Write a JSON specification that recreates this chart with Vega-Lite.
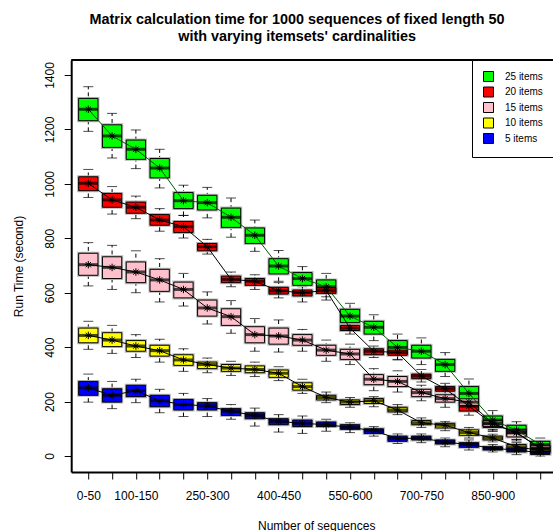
{
"$schema":"https://vega.github.io/schema/vega-lite/v6.json",
"width":481.8,"height":412,
"autosize":{"type":"none"},
"padding":{"left":71.2,"top":60,"right":0,"bottom":59},
"background":"white",
"title":{"text":["Matrix calculation time for 1000 sequences of fixed length 50","with varying itemsets' cardinalities"],"font":"Liberation Sans","fontSize":14.4,"fontWeight":"bold","color":"black","anchor":"middle","frame":"group","offset":14.5,"lineHeight":17,"dx":-15},
"config":{"view":{"stroke":null},"scale":{"continuousPadding":0},"axis":{"grid":false,"domainColor":"black","domainWidth":2,"tickColor":"black","tickWidth":1,"tickSize":7,"labelFont":"Liberation Sans","labelFontSize":12,"labelColor":"black","titleFont":"Liberation Sans","titleFontSize":12,"titleFontWeight":"normal","titleColor":"black","labelOverlap":false,"labelFlush":false}},
"data":{"values":[
{"c":1,"s":"25 items","lo":1193,"q1":1232,"m":1274,"q3":1314,"hi":1357},
{"c":2,"s":"25 items","lo":1095,"q1":1134,"m":1176,"q3":1217,"hi":1259},
{"c":3,"s":"25 items","lo":1056,"q1":1090,"m":1127,"q3":1161,"hi":1198},
{"c":4,"s":"25 items","lo":985,"q1":1022,"m":1058,"q3":1093,"hi":1127},
{"c":5,"s":"25 items","lo":884,"q1":909,"m":938,"q3":968,"hi":995},
{"c":6,"s":"25 items","lo":875,"q1":904,"m":931,"q3":958,"hi":987},
{"c":7,"s":"25 items","lo":804,"q1":840,"m":877,"q3":911,"hi":948},
{"c":8,"s":"25 items","lo":752,"q1":781,"m":811,"q3":838,"hi":867},
{"c":9,"s":"25 items","lo":642,"q1":669,"m":698,"q3":725,"hi":755},
{"c":10,"s":"25 items","lo":605,"q1":627,"m":652,"q3":674,"hi":696},
{"c":11,"s":"25 items","lo":573,"q1":598,"m":622,"q3":647,"hi":671},
{"c":12,"s":"25 items","lo":465,"q1":490,"m":514,"q3":539,"hi":561},
{"c":13,"s":"25 items","lo":424,"q1":448,"m":473,"q3":495,"hi":519},
{"c":14,"s":"25 items","lo":353,"q1":375,"m":399,"q3":424,"hi":448},
{"c":15,"s":"25 items","lo":336,"q1":360,"m":385,"q3":407,"hi":434},
{"c":16,"s":"25 items","lo":292,"q1":311,"m":336,"q3":355,"hi":380},
{"c":17,"s":"25 items","lo":185,"q1":208,"m":230,"q3":255,"hi":283},
{"c":18,"s":"25 items","lo":98,"q1":110,"m":132,"q3":147,"hi":167},
{"c":19,"s":"25 items","lo":61,"q1":74,"m":95,"q3":113,"hi":126},
{"c":20,"s":"25 items","lo":17,"q1":29,"m":42,"q3":54,"hi":66},
{"c":1,"s":"20 items","lo":950,"q1":975,"m":1002,"q3":1026,"hi":1053},
{"c":2,"s":"20 items","lo":889,"q1":914,"m":941,"q3":965,"hi":990},
{"c":3,"s":"20 items","lo":872,"q1":892,"m":914,"q3":933,"hi":955},
{"c":4,"s":"20 items","lo":826,"q1":848,"m":867,"q3":887,"hi":909},
{"c":5,"s":"20 items","lo":801,"q1":821,"m":843,"q3":862,"hi":884},
{"c":6,"s":"20 items","lo":742,"q1":754,"m":769,"q3":781,"hi":796},
{"c":7,"s":"20 items","lo":622,"q1":637,"m":649,"q3":661,"hi":676},
{"c":8,"s":"20 items","lo":612,"q1":627,"m":642,"q3":652,"hi":666},
{"c":9,"s":"20 items","lo":581,"q1":595,"m":607,"q3":620,"hi":637},
{"c":10,"s":"20 items","lo":566,"q1":588,"m":600,"q3":610,"hi":622},
{"c":11,"s":"20 items","lo":585,"q1":598,"m":608,"q3":618,"hi":630},
{"c":12,"s":"20 items","lo":448,"q1":461,"m":470,"q3":480,"hi":490},
{"c":13,"s":"20 items","lo":362,"q1":372,"m":385,"q3":394,"hi":404},
{"c":14,"s":"20 items","lo":355,"q1":370,"m":380,"q3":389,"hi":404},
{"c":15,"s":"20 items","lo":272,"q1":284,"m":294,"q3":301,"hi":318},
{"c":16,"s":"20 items","lo":225,"q1":238,"m":247,"q3":255,"hi":267},
{"c":17,"s":"20 items","lo":150,"q1":165,"m":183,"q3":200,"hi":215},
{"c":18,"s":"20 items","lo":90,"q1":105,"m":118,"q3":128,"hi":140},
{"c":19,"s":"20 items","lo":60,"q1":74,"m":86,"q3":98,"hi":110},
{"c":20,"s":"20 items","lo":5,"q1":15,"m":27,"q3":37,"hi":48},
{"c":1,"s":"15 items","lo":625,"q1":664,"m":703,"q3":745,"hi":784},
{"c":2,"s":"15 items","lo":612,"q1":652,"m":693,"q3":732,"hi":774},
{"c":3,"s":"15 items","lo":600,"q1":637,"m":676,"q3":713,"hi":754},
{"c":4,"s":"15 items","lo":566,"q1":605,"m":647,"q3":686,"hi":725},
{"c":5,"s":"15 items","lo":551,"q1":581,"m":612,"q3":639,"hi":671},
{"c":6,"s":"15 items","lo":485,"q1":514,"m":544,"q3":573,"hi":603},
{"c":7,"s":"15 items","lo":451,"q1":480,"m":512,"q3":541,"hi":571},
{"c":8,"s":"15 items","lo":385,"q1":416,"m":446,"q3":475,"hi":505},
{"c":9,"s":"15 items","lo":382,"q1":411,"m":441,"q3":470,"hi":500},
{"c":10,"s":"15 items","lo":385,"q1":407,"m":426,"q3":446,"hi":465},
{"c":11,"s":"15 items","lo":348,"q1":370,"m":389,"q3":407,"hi":426},
{"c":12,"s":"15 items","lo":336,"q1":355,"m":375,"q3":392,"hi":411},
{"c":13,"s":"15 items","lo":240,"q1":262,"m":282,"q3":299,"hi":321},
{"c":14,"s":"15 items","lo":235,"q1":255,"m":274,"q3":292,"hi":313},
{"c":15,"s":"15 items","lo":203,"q1":218,"m":233,"q3":245,"hi":260},
{"c":16,"s":"15 items","lo":179,"q1":198,"m":211,"q3":225,"hi":245},
{"c":17,"s":"15 items","lo":170,"q1":185,"m":198,"q3":210,"hi":225},
{"c":18,"s":"15 items","lo":95,"q1":108,"m":120,"q3":130,"hi":142},
{"c":19,"s":"15 items","lo":55,"q1":70,"m":85,"q3":96,"hi":108},
{"c":20,"s":"15 items","lo":8,"q1":18,"m":30,"q3":40,"hi":52},
{"c":1,"s":"10 items","lo":392,"q1":416,"m":443,"q3":470,"hi":495},
{"c":2,"s":"10 items","lo":377,"q1":402,"m":426,"q3":453,"hi":480},
{"c":3,"s":"10 items","lo":362,"q1":385,"m":404,"q3":424,"hi":446},
{"c":4,"s":"10 items","lo":345,"q1":367,"m":387,"q3":407,"hi":429},
{"c":5,"s":"10 items","lo":311,"q1":333,"m":353,"q3":372,"hi":394},
{"c":6,"s":"10 items","lo":306,"q1":321,"m":336,"q3":345,"hi":360},
{"c":7,"s":"10 items","lo":296,"q1":311,"m":323,"q3":336,"hi":348},
{"c":8,"s":"10 items","lo":292,"q1":306,"m":318,"q3":331,"hi":345},
{"c":9,"s":"10 items","lo":277,"q1":289,"m":304,"q3":316,"hi":328},
{"c":10,"s":"10 items","lo":230,"q1":242,"m":255,"q3":269,"hi":282},
{"c":11,"s":"10 items","lo":196,"q1":206,"m":215,"q3":223,"hi":235},
{"c":12,"s":"10 items","lo":179,"q1":189,"m":198,"q3":206,"hi":215},
{"c":13,"s":"10 items","lo":181,"q1":193,"m":203,"q3":211,"hi":218},
{"c":14,"s":"10 items","lo":152,"q1":162,"m":169,"q3":179,"hi":189},
{"c":15,"s":"10 items","lo":105,"q1":115,"m":122,"q3":130,"hi":140},
{"c":16,"s":"10 items","lo":93,"q1":103,"m":113,"q3":120,"hi":127},
{"c":17,"s":"10 items","lo":66,"q1":76,"m":86,"q3":96,"hi":105},
{"c":18,"s":"10 items","lo":52,"q1":59,"m":66,"q3":73,"hi":80},
{"c":19,"s":"10 items","lo":17,"q1":27,"m":34,"q3":42,"hi":49},
{"c":20,"s":"10 items","lo":5,"q1":13,"m":20,"q3":27,"hi":35},
{"c":1,"s":"5 items","lo":198,"q1":223,"m":250,"q3":274,"hi":301},
{"c":2,"s":"5 items","lo":174,"q1":198,"m":223,"q3":247,"hi":274},
{"c":3,"s":"5 items","lo":196,"q1":218,"m":240,"q3":260,"hi":282},
{"c":4,"s":"5 items","lo":159,"q1":181,"m":203,"q3":223,"hi":245},
{"c":5,"s":"5 items","lo":145,"q1":169,"m":189,"q3":208,"hi":230},
{"c":6,"s":"5 items","lo":145,"q1":169,"m":184,"q3":196,"hi":211},
{"c":7,"s":"5 items","lo":135,"q1":149,"m":164,"q3":174,"hi":189},
{"c":8,"s":"5 items","lo":110,"q1":137,"m":149,"q3":159,"hi":176},
{"c":9,"s":"5 items","lo":88,"q1":115,"m":127,"q3":137,"hi":152},
{"c":10,"s":"5 items","lo":83,"q1":108,"m":120,"q3":132,"hi":147},
{"c":11,"s":"5 items","lo":91,"q1":108,"m":115,"q3":125,"hi":135},
{"c":12,"s":"5 items","lo":86,"q1":98,"m":105,"q3":115,"hi":122},
{"c":13,"s":"5 items","lo":73,"q1":83,"m":93,"q3":100,"hi":108},
{"c":14,"s":"5 items","lo":46,"q1":54,"m":64,"q3":73,"hi":81},
{"c":15,"s":"5 items","lo":49,"q1":59,"m":66,"q3":73,"hi":81},
{"c":16,"s":"5 items","lo":34,"q1":44,"m":51,"q3":59,"hi":66},
{"c":17,"s":"5 items","lo":22,"q1":32,"m":42,"q3":49,"hi":59},
{"c":18,"s":"5 items","lo":15,"q1":22,"m":28,"q3":34,"hi":42},
{"c":19,"s":"5 items","lo":5,"q1":15,"m":22,"q3":29,"hi":37},
{"c":20,"s":"5 items","lo":0,"q1":6,"m":12,"q3":18,"hi":26}
]},
"layer":[
{"mark":{"type":"rule","color":"black","strokeWidth":1,"strokeDash":[4,3]},
 "encoding":{
  "x":{"field":"c","type":"quantitative","scale":{"domain":[0.281,20.534],"nice":false,"zero":false,"padding":0},
   "axis":{"values":[1,2,3,4,5,6,7,8,9,10,11,12,13,14,15,16,17,18,19,20],"labelExpr":"indexof([1,3,6,9,12,15,18], datum.value) >= 0 ? ((datum.value-1)*50) + '-' + (datum.value*50) : ''","labelOverlap":false,"labelFlush":false,"labelPadding":11,"title":"Number of sequences","titleX":245,"titleY":57,"titleBaseline":"alphabetic","titleAlign":"center"}},
  "y":{"field":"lo","type":"quantitative","scale":{"domain":[-58.8,1455.1],"nice":false,"zero":false,"padding":0},
   "axis":{"values":[0,200,400,600,800,1000,1200,1400],"format":"d","labelAngle":270,"labelAlign":"center","labelBaseline":"alphabetic","labelPadding":11,"title":"Run Time (second)","titleAngle":270,"titleX":-49,"titleY":206,"titleBaseline":"alphabetic","titleAlign":"center"}},
  "y2":{"field":"hi"}}},
{"mark":{"type":"tick","orient":"horizontal","color":"black","size":10,"thickness":1},
 "encoding":{"x":{"field":"c","type":"quantitative","scale":{"domain":[0.281,20.534],"nice":false,"zero":false,"padding":0},
   "axis":{"values":[1,2,3,4,5,6,7,8,9,10,11,12,13,14,15,16,17,18,19,20],"labelExpr":"indexof([1,3,6,9,12,15,18], datum.value) >= 0 ? ((datum.value-1)*50) + '-' + (datum.value*50) : ''","labelOverlap":false,"labelFlush":false,"labelPadding":11,"title":"Number of sequences","titleX":245,"titleY":57,"titleBaseline":"alphabetic","titleAlign":"center"}},
  "y":{"field":"lo","type":"quantitative","scale":{"domain":[-58.8,1455.1],"nice":false,"zero":false,"padding":0},
   "axis":{"values":[0,200,400,600,800,1000,1200,1400],"format":"d","labelAngle":270,"labelAlign":"center","labelBaseline":"alphabetic","labelPadding":11,"title":"Run Time (second)","titleAngle":270,"titleX":-49,"titleY":206,"titleBaseline":"alphabetic","titleAlign":"center"}}}},
{"mark":{"type":"tick","orient":"horizontal","color":"black","size":10,"thickness":1},
 "encoding":{"x":{"field":"c","type":"quantitative","scale":{"domain":[0.281,20.534],"nice":false,"zero":false,"padding":0},
   "axis":{"values":[1,2,3,4,5,6,7,8,9,10,11,12,13,14,15,16,17,18,19,20],"labelExpr":"indexof([1,3,6,9,12,15,18], datum.value) >= 0 ? ((datum.value-1)*50) + '-' + (datum.value*50) : ''","labelOverlap":false,"labelFlush":false,"labelPadding":11,"title":"Number of sequences","titleX":245,"titleY":57,"titleBaseline":"alphabetic","titleAlign":"center"}},
  "y":{"field":"hi","type":"quantitative","scale":{"domain":[-58.8,1455.1],"nice":false,"zero":false,"padding":0},
   "axis":{"values":[0,200,400,600,800,1000,1200,1400],"format":"d","labelAngle":270,"labelAlign":"center","labelBaseline":"alphabetic","labelPadding":11,"title":"Run Time (second)","titleAngle":270,"titleX":-49,"titleY":206,"titleBaseline":"alphabetic","titleAlign":"center"}}}},
{"mark":{"type":"bar","width":19.3,"fill":"transparent","stroke":"#b8b8b8","strokeWidth":3},
 "encoding":{"x":{"field":"c","type":"quantitative","scale":{"domain":[0.281,20.534],"nice":false,"zero":false,"padding":0},
   "axis":{"values":[1,2,3,4,5,6,7,8,9,10,11,12,13,14,15,16,17,18,19,20],"labelExpr":"indexof([1,3,6,9,12,15,18], datum.value) >= 0 ? ((datum.value-1)*50) + '-' + (datum.value*50) : ''","labelOverlap":false,"labelFlush":false,"labelPadding":11,"title":"Number of sequences","titleX":245,"titleY":57,"titleBaseline":"alphabetic","titleAlign":"center"}},
  "y":{"field":"q1","type":"quantitative","scale":{"domain":[-58.8,1455.1],"nice":false,"zero":false,"padding":0},
   "axis":{"values":[0,200,400,600,800,1000,1200,1400],"format":"d","labelAngle":270,"labelAlign":"center","labelBaseline":"alphabetic","labelPadding":11,"title":"Run Time (second)","titleAngle":270,"titleX":-49,"titleY":206,"titleBaseline":"alphabetic","titleAlign":"center"}},"y2":{"field":"q3"}}},
{"mark":{"type":"bar","width":19.3,"stroke":"black","strokeWidth":1,"opacity":1},
 "encoding":{"x":{"field":"c","type":"quantitative","scale":{"domain":[0.281,20.534],"nice":false,"zero":false,"padding":0},
   "axis":{"values":[1,2,3,4,5,6,7,8,9,10,11,12,13,14,15,16,17,18,19,20],"labelExpr":"indexof([1,3,6,9,12,15,18], datum.value) >= 0 ? ((datum.value-1)*50) + '-' + (datum.value*50) : ''","labelOverlap":false,"labelFlush":false,"labelPadding":11,"title":"Number of sequences","titleX":245,"titleY":57,"titleBaseline":"alphabetic","titleAlign":"center"}},
  "y":{"field":"q1","type":"quantitative","scale":{"domain":[-58.8,1455.1],"nice":false,"zero":false,"padding":0},
   "axis":{"values":[0,200,400,600,800,1000,1200,1400],"format":"d","labelAngle":270,"labelAlign":"center","labelBaseline":"alphabetic","labelPadding":11,"title":"Run Time (second)","titleAngle":270,"titleX":-49,"titleY":206,"titleBaseline":"alphabetic","titleAlign":"center"}},"y2":{"field":"q3"},
  "fill":{"field":"s","type":"nominal","scale":{"domain":["25 items","20 items","15 items","10 items","5 items"],"range":["#00ff00","#ff0000","#ffc0cb","#ffff00","#0000ff"]},
   "legend":{"title":null,"orient":"none","legendX":400.8,"legendY":0,"direction":"vertical","strokeColor":"black","fillColor":"white","padding":11,"symbolType":"square","symbolSize":100,"symbolStrokeColor":"black","symbolStrokeWidth":1,"symbolOpacity":1,"labelFont":"Liberation Sans","labelFontSize":10,"labelColor":"black","labelOffset":11,"rowPadding":0.5}}}},
{"mark":{"type":"tick","orient":"horizontal","color":"black","size":19.3,"thickness":3},
 "encoding":{"x":{"field":"c","type":"quantitative","scale":{"domain":[0.281,20.534],"nice":false,"zero":false,"padding":0},
   "axis":{"values":[1,2,3,4,5,6,7,8,9,10,11,12,13,14,15,16,17,18,19,20],"labelExpr":"indexof([1,3,6,9,12,15,18], datum.value) >= 0 ? ((datum.value-1)*50) + '-' + (datum.value*50) : ''","labelOverlap":false,"labelFlush":false,"labelPadding":11,"title":"Number of sequences","titleX":245,"titleY":57,"titleBaseline":"alphabetic","titleAlign":"center"}},
  "y":{"field":"m","type":"quantitative","scale":{"domain":[-58.8,1455.1],"nice":false,"zero":false,"padding":0},
   "axis":{"values":[0,200,400,600,800,1000,1200,1400],"format":"d","labelAngle":270,"labelAlign":"center","labelBaseline":"alphabetic","labelPadding":11,"title":"Run Time (second)","titleAngle":270,"titleX":-49,"titleY":206,"titleBaseline":"alphabetic","titleAlign":"center"}}}},
{"mark":{"type":"line","strokeWidth":1},
 "encoding":{"x":{"field":"c","type":"quantitative","scale":{"domain":[0.281,20.534],"nice":false,"zero":false,"padding":0},
   "axis":{"values":[1,2,3,4,5,6,7,8,9,10,11,12,13,14,15,16,17,18,19,20],"labelExpr":"indexof([1,3,6,9,12,15,18], datum.value) >= 0 ? ((datum.value-1)*50) + '-' + (datum.value*50) : ''","labelOverlap":false,"labelFlush":false,"labelPadding":11,"title":"Number of sequences","titleX":245,"titleY":57,"titleBaseline":"alphabetic","titleAlign":"center"}},
  "y":{"field":"m","type":"quantitative","scale":{"domain":[-58.8,1455.1],"nice":false,"zero":false,"padding":0},
   "axis":{"values":[0,200,400,600,800,1000,1200,1400],"format":"d","labelAngle":270,"labelAlign":"center","labelBaseline":"alphabetic","labelPadding":11,"title":"Run Time (second)","titleAngle":270,"titleX":-49,"titleY":206,"titleBaseline":"alphabetic","titleAlign":"center"}},"detail":{"field":"s"},
  "color":{"condition":{"test":"datum.s === '25 items'","value":"#005a00"},"value":"black"}}},
{"mark":{"type":"point","shape":"M0,-1L0,1M-1,0L1,0M-0.7,-0.7L0.7,0.7M-0.7,0.7L0.7,-0.7","filled":false,"stroke":"black","strokeWidth":1,"size":56,"opacity":1},
 "encoding":{"x":{"field":"c","type":"quantitative","scale":{"domain":[0.281,20.534],"nice":false,"zero":false,"padding":0},
   "axis":{"values":[1,2,3,4,5,6,7,8,9,10,11,12,13,14,15,16,17,18,19,20],"labelExpr":"indexof([1,3,6,9,12,15,18], datum.value) >= 0 ? ((datum.value-1)*50) + '-' + (datum.value*50) : ''","labelOverlap":false,"labelFlush":false,"labelPadding":11,"title":"Number of sequences","titleX":245,"titleY":57,"titleBaseline":"alphabetic","titleAlign":"center"}},
  "y":{"field":"m","type":"quantitative","scale":{"domain":[-58.8,1455.1],"nice":false,"zero":false,"padding":0},
   "axis":{"values":[0,200,400,600,800,1000,1200,1400],"format":"d","labelAngle":270,"labelAlign":"center","labelBaseline":"alphabetic","labelPadding":11,"title":"Run Time (second)","titleAngle":270,"titleX":-49,"titleY":206,"titleBaseline":"alphabetic","titleAlign":"center"}}}},
{"data":{"values":[{}]},"mark":{"type":"rule","color":"black","strokeWidth":2},
 "encoding":{"y":{"datum":1455.1,"type":"quantitative","scale":{"domain":[-58.8,1455.1],"nice":false,"zero":false,"padding":0},
   "axis":{"values":[0,200,400,600,800,1000,1200,1400],"format":"d","labelAngle":270,"labelAlign":"center","labelBaseline":"alphabetic","labelPadding":11,"title":"Run Time (second)","titleAngle":270,"titleX":-49,"titleY":206,"titleBaseline":"alphabetic","titleAlign":"center"}}}}
]
}
